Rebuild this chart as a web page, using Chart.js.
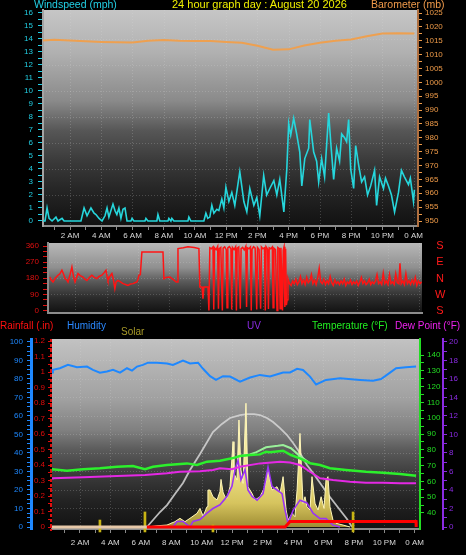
<!DOCTYPE html>
<html><head><meta charset="utf-8">
<script src="https://cdn.jsdelivr.net/npm/chart.js@4.4.1/dist/chart.umd.min.js"></script>
<style>
html,body{margin:0;padding:0;background:#000;width:466px;height:555px;overflow:hidden;font-family:"Liberation Sans",Arial,sans-serif;}
canvas{position:absolute;left:0;}
.t{position:absolute;white-space:nowrap;font-size:10px;line-height:12px;}
</style></head><body>
<canvas id="c1" width="466" height="242" style="top:0px"></canvas>
<canvas id="c2" width="466" height="88" style="top:234px"></canvas>
<canvas id="c3" width="466" height="237" style="top:318px"></canvas>
<div class="t" style="left:34px;top:-2px;color:#22d0e6;font-size:10.5px">Windspeed (mph)</div>
<div class="t" style="left:172px;top:-2px;color:#f0f000;font-size:11px">24 hour graph day : August 20 2026</div>
<div class="t" style="left:371px;top:-2px;color:#f09a4a;font-size:10.5px">Barometer (mb)</div>
<div class="t" style="left:435px;top:237px;color:#ff1a1a;font-size:11px;line-height:16.3px;width:10px;text-align:center">S<br>E<br>N<br>W<br>S</div>
<div class="t" style="left:0px;top:320px;color:#ff1010">Rainfall (.in)</div>
<div class="t" style="left:67px;top:320px;color:#2a88ff">Humidity</div>
<div class="t" style="left:121px;top:326px;color:#a89a28">Solar</div>
<div class="t" style="left:247px;top:320px;color:#8a2be2">UV</div>
<div class="t" style="left:312px;top:320px;color:#22ee22">Temperature (°F)</div>
<div class="t" style="left:395px;top:320px;color:#ee22ee">Dew Point (°F)</div>
<script>
// ---------- DATA ----------
const hourTicks = [1,2,3,4,5,6,7,8,9,10,11,12,13,14,15,16,17,18,19,20,21,22,23,24];
const xLabelHours = [2,4,6,8,10,12,14,16,18,20,22,24];
const xLabels = ['2 AM','4 AM','6 AM','8 AM','10 AM','12 PM','2 PM','4 PM','6 PM','8 PM','10 PM','0 AM'];

const windTickLabels = [0,1,2,3,4,5,6,7,8,9,10,11,12,13,14,15,16];
const baroTickLabels = [950,955,960,965,970,975,980,985,990,995,1000,1005,1010,1015,1020,1025];
const dirTickLabels = [0,90,180,270,360];
const humTickLabels = [0,10,20,30,40,50,60,70,80,90,100];
const rainTickLabels = [0,0.1,0.2,0.3,0.4,0.5,0.6,0.7,0.8,0.9,1,1.1,1.2];
const tempTickLabels = [40,50,60,70,80,90,100,110,120,130,140];
const uvTickLabels = [0,2,4,6,8,10,12,14,16,18,20];

// [hour, mph]
const windSpeed = [[0.21,0],[0.4,0],[0.53,1.0],[0.66,0.2],[0.85,0],[1.1,0.3],[1.23,0],[1.49,0.2],[1.62,0],[2.7,0],[2.9,1.0],[3.09,0.4],[3.34,1.0],[3.54,0.6],[3.66,0.5],[3.86,0.2],[4.05,0],[4.24,0.4],[4.37,1.0],[4.49,0.3],[4.75,1.3],[4.88,0.8],[5.0,0.5],[5.13,1.0],[5.26,0.2],[5.39,0.9],[5.52,1.0],[5.65,0],[5.9,0],[5.97,0.2],[6.09,0],[6.8,0],[6.86,0.2],[6.99,0],[7.56,0],[7.63,0.5],[7.75,0],[8.27,0],[8.33,0.2],[8.46,0],[8.52,0.2],[8.65,0],[9.55,0],[9.61,0.3],[9.74,0],[10.57,0],[10.7,0.6],[10.82,0.2],[10.95,0.3],[11.08,1.2],[11.21,0.6],[11.4,0.9],[11.53,0.8],[11.72,1.7],[11.85,1.0],[11.98,2.6],[12.17,1.5],
[12.36,2.2],[12.55,1.2],[12.87,3.8],[13.13,1.5],[13.32,0.7],[13.51,2.5],[13.77,1.2],[13.96,1.8],[14.15,0.4],[14.4,3.5],[14.59,2.0],[14.79,2.5],[15.05,3.1],[15.24,2.0],[15.43,3.2],[15.69,0.7],[15.88,4.0],[16.0,7.5],[16.13,6.6],[16.32,7.9],[16.51,6.7],[16.71,5.3],[16.84,2.7],[17.03,4.8],[17.28,5.6],[17.35,7.8],[17.6,5.3],[17.79,4.6],[17.92,3.0],[18.11,4.8],[18.3,3.4],[18.56,8.3],[18.69,6.1],[18.88,3.2],[19.07,5.6],[19.26,4.6],[19.39,6.7],[19.58,6.4],[19.71,6.1],[19.84,7.8],[19.97,4.0],[20.16,2.5],[20.29,5.8],[20.48,4.3],[20.67,3.0],[20.86,3.4],[21.05,2.0],[21.25,2.7],[21.5,3.9],[21.63,1.2],[21.82,3.4],[22.07,2.5],[22.2,3.3],[22.39,2.7],[22.58,2.0],[22.78,0.7],[23.03,2.2],[23.22,3.9],[23.41,3.4],[23.67,2.8],[23.79,3.3],[23.99,1.5],[24.05,2.4]];

// [hour, mb]
const barometer = [[0.25,1015.1],[1,1015.4],[2,1015.1],[3,1014.8],[4,1014.6],[5,1014.5],[6,1014.4],[7,1015.0],[8,1015.3],[9,1015.0],[10,1014.9],[11,1014.9],[12,1014.6],[13,1014.3],[14,1013.2],[15,1011.8],[16,1011.9],[17,1013.3],[18,1014.3],[19,1015.0],[20,1015.5],[21,1016.6],[22,1017.6],[23,1017.7],[24.05,1017.6]];

// [hour, degrees]
const windDir = [[0.36,187],[0.45,170],[0.56,159],[0.7,180],[0.88,197],[1.0,205],[1.13,225],[1.25,200],[1.33,178],[1.45,170],[1.52,159],[1.65,200],[1.77,243],[1.87,190],[1.97,159],[2.07,185],[2.16,206],[2.3,195],[2.48,187],[2.6,175],[2.73,168],[2.9,185],[3.05,197],[3.2,185],[3.37,178],[3.5,190],[3.69,197],[3.82,210],[3.95,225],[4.02,190],[4.08,168],[4.2,190],[4.33,206],[4.42,175],[4.52,122],[4.6,160],[4.72,168],[4.88,160],[5.04,150],[5.2,145],[5.36,140],[5.52,148],[5.68,150],[5.8,155],[5.93,159],[6.0,175],[6.06,197],[6.15,200],[6.25,327],[7.6,327],[7.66,178],[7.8,185],[8.05,187],[8.3,170],[8.45,159],[8.5,159],[8.56,346],[8.9,350],[9.2,356],[9.6,352],[9.9,346],[9.96,131],[10.1,131],[10.16,66],[10.22,131],[10.48,131],
[10.54,0],[10.6,350],[10.7,345],[10.8,355],[10.85,5],[10.9,350],[11.0,340],[11.1,358],[11.15,10],[11.2,345],[11.3,352],[11.4,0],[11.45,348],[11.55,355],[11.65,340],[11.7,15],[11.75,350],[11.85,357],[11.95,345],[12.0,5],[12.05,352],[12.15,340],[12.25,356],[12.3,0],[12.35,348],[12.45,355],[12.55,10],[12.6,345],[12.7,352],[12.8,338],[12.9,358],[12.95,20],[13.0,350],[13.1,345],[13.2,355],[13.25,0],[13.3,342],[13.4,356],[13.5,348],[13.6,5],[13.65,352],[13.75,340],[13.85,10],[13.9,355],[14.0,345],[14.1,350],[14.15,0],[14.2,356],[14.3,342],[14.35,8],[14.4,350],[14.5,345],[14.6,355],[14.65,15],[14.7,348],[14.8,340],[14.9,0],[14.95,352],[15.05,345],[15.1,10],[15.15,350],[15.25,0],[15.3,338],[15.35,356],[15.4,20],[15.45,345],[15.5,30],
[15.55,60],[15.6,178],[15.7,150],[15.8,140],[15.9,165],[16.0,150],[16.1,175],[16.2,145],[16.3,160],[16.4,190],[16.5,150],[16.6,170],[16.7,145],[16.8,185],[16.9,155],[17.0,165],[17.1,200],[17.2,150],[17.3,170],[17.4,145],[17.5,180],[17.6,236],[17.7,160],[17.8,150],[17.9,175],[18.0,145],[18.1,165],[18.2,150],[18.3,190],[18.4,155],[18.5,140],[18.6,170],[18.7,150],[18.8,160],[18.9,145],[19.0,165],[19.1,150],[19.2,175],[19.3,140],[19.4,160],[19.5,150],[19.6,170],[19.7,145],[19.8,160],[19.9,150],[20.0,165],[20.1,140],[20.2,160],[20.3,185],[20.4,150],[20.5,165],[20.6,145],[20.7,155],[20.8,175],[20.9,145],[21.0,160],[21.1,150],[21.2,165],[21.3,200],[21.4,150],[21.5,160],[21.6,145],[21.7,208],[21.8,150],[21.9,165],[22.0,145],[22.1,200],[22.2,150],[22.3,160],[22.4,145],[22.5,205],[22.6,155],[22.7,150],[22.77,264],[22.85,150],[22.95,165],[23.05,145],[23.15,205],[23.25,150],[23.35,165],[23.45,145],[23.55,170],[23.65,150],[23.75,185],[23.85,140],[23.95,165],[24.05,150],[24.15,160]];

// [hour, %]
const humidity = [[0.16,83.5],[0.22,84.9],[0.68,85.8],[1.21,87.6],[1.8,86.3],[2.46,86.7],[2.85,84.9],[3.31,83.4],[3.77,84.0],[4.17,84.9],[4.63,83.4],[5.09,85.8],[5.42,84.5],[5.75,86.7],[6.14,87.6],[6.47,88.8],[7.06,88.8],[7.72,88.4],[8.11,87.6],[8.77,89.9],[9.23,88.4],[9.76,88.8],[10.09,85.5],[10.55,81.5],[10.94,79.5],[11.4,81.5],[11.86,81.3],[12.52,78.5],[13.18,80.8],[13.83,82.2],[14.49,81.3],[15.35,83.5],[15.81,83.5],[16.27,85.5],[16.66,84.9],[17.12,81.3],[17.52,77.0],[18.17,79.5],[19.09,80.4],[20.41,79.5],[21.26,79.0],[21.79,80.0],[22.38,83.4],[22.78,85.8],[23.43,86.3],[24.09,86.7]];

// [hour, °F]
const temperature = [[0.16,67.5],[0.22,67.7],[1.14,66.8],[2.2,67.7],[3.31,68.3],[4.43,69.3],[5.48,69.7],[6.27,67.7],[6.8,69.3],[7.72,70.4],[9.03,71.4],[9.69,70.4],[10.35,72.5],[11.2,73.1],[11.99,74.6],[12.52,76.1],[13.18,76.7],[13.83,77.1],[14.23,78.8],[14.49,78.5],[15.35,79.4],[15.87,76.7],[16.46,74.6],[17.12,71.5],[17.78,70.4],[18.43,68.3],[19.49,67.2],[20.8,66.1],[21.92,65.5],[23.04,64.7],[24.09,63.6]];
const heatIndex = [[12.52,76.1],[13.18,77.0],[13.6,78.5],[14.23,81.6],[15.0,82.5],[15.35,83.0],[15.87,81.0],[16.46,76.0],[17.12,71.5]];
const dewPoint = [[0.16,61.8],[0.22,62.0],[2.2,62.6],[4.43,63.4],[6.27,64.0],[7.72,65.1],[8.57,66.1],[9.89,66.5],[10.74,67.2],[11.2,68.3],[11.99,67.7],[12.52,69.3],[13.83,71.4],[15.15,72.5],[15.81,72.0],[16.46,70.4],[17.12,66.1],[17.78,62.0],[18.63,60.9],[19.75,59.8],[20.8,59.2],[21.92,59.2],[23.04,58.8],[24.09,58.8]];

// [hour, W/m2]
const solar = [[6.4,0],[7.06,10],[7.72,16],[8.24,43],[8.57,70],[8.9,43],[9.23,70],[9.69,110],[9.89,150],[10.09,86],[10.35,164],[10.41,298],[10.55,298],[10.74,244],[11.01,218],[11.2,285],[11.27,384],[11.4,282],[11.53,244],[11.66,231],[11.86,325],[12.06,688],[12.12,433],[12.32,379],[12.45,863],[12.58,460],[12.72,352],[12.91,998],[13.04,325],[13.31,271],[13.5,218],[13.83,244],[14.16,325],[14.36,460],[14.62,298],[14.95,325],[15.15,271],[15.35,406],[15.55,137],[15.68,56],[15.94,110],[16.13,83],[16.27,298],[16.46,755],[16.66,191],[16.79,244],[16.92,164],[17.12,137],[17.25,406],[17.45,191],[17.65,137],[17.85,244],[18.04,150],[18.17,379],[18.3,406],[18.43,164],[18.63,56],[18.83,30],[19.29,16],[19.75,0]];
const solarMax = [[6.4,0],[7.26,121],[7.72,177],[8.24,266],[8.77,355],[9.23,460],[9.89,589],[10.74,766],[11.33,831],[11.86,879],[12.52,903],[12.98,911],[13.44,911],[13.83,903],[14.29,879],[14.69,847],[15.15,798],[15.61,742],[16.01,677],[16.46,597],[16.92,500],[17.32,435],[17.78,355],[18.43,242],[19.09,137],[19.55,65],[19.88,0]];
// [hour, UV index]
const uvIndex = [[8.11,0],[8.38,0.6],[8.77,0.6],[9.23,0],[9.43,0.6],[9.89,0.8],[10.35,1.5],[10.74,2.0],[11.2,2.4],[11.66,3.3],[11.99,4.4],[12.19,6.2],[12.39,7.2],[12.58,5.1],[12.85,6.2],[13.04,4.0],[13.31,3.3],[13.64,2.9],[14.03,3.6],[14.36,6.5],[14.62,4.4],[14.95,4.0],[15.28,3.6],[15.48,1.8],[15.68,0.4],[16.01,1.8],[16.46,2.9],[16.92,2.6],[17.32,1.5],[17.78,0.9],[18.17,0.9],[18.63,0.2],[19.09,0]];
// [hour, inches]
const rainfall = [[0.16,0],[6.4,0],[15.48,0],[15.81,0.035],[24.09,0.035],[24.1,0]];
// [hour, marker height]
const dayMarkers = [[3.31,0.045],[6.27,0.097],[10.74,0.013],[19.95,0.097]];

// ---------- HELPERS ----------
const FONT = '"Liberation Sans", Arial, sans-serif';
Chart.defaults.font.family = FONT;
const pts = a => a.map(p => ({x:p[0], y:p[1]}));
function withMinor(majors, parts){
  const out=[];
  for(let i=0;i<majors.length;i++){
    out.push({value:majors[i]});
    if(i<majors.length-1){ const a=majors[i], b=majors[i+1]; for(let k=1;k<parts;k++) out.push({value:a+(b-a)*k/parts}); }
  }
  return out;
}
function yAxis(o){
  return {
    type:'linear', position:o.pos, min:o.min, max:o.max, weight:o.weight||0, display: o.display===false?false:true,
    afterBuildTicks: s => { s.ticks = withMinor(o.labels, o.parts); },
    afterFit: s => { s.width = o.width; },
    ticks:{ color:o.color, font:{size:8}, padding:o.pad, autoSkip:false,
      callback: v => o.labels.includes(v) ? (o.fmt ? o.fmt(v) : String(v)) : '' },
    grid:{ drawOnChartArea:false, tickLength:o.tick||4, tickColor:o.color },
    border:{ display:o.border!==false, color:o.borderColor||o.color, width:o.borderWidth||2 }
  };
}
function xAxis(min, max, height, showLabels, pad){
  return {
    type:'linear', position:'bottom', min, max, offset:false,
    afterBuildTicks: s => { s.ticks = hourTicks.map(v => ({value:v})); },
    afterFit: s => { s.height = height; },
    ticks:{ display:showLabels, color:'#d8d8d8', font:{size:8}, padding:pad, autoSkip:false, maxRotation:0,
      callback: v => { const i = xLabelHours.indexOf(v); return i>=0 ? xLabels[i] : ''; } },
    grid:{ offset:false, drawOnChartArea:false, drawTicks:showLabels, tickLength:4, tickColor:'#8a8a8a' },
    border:{ color:'#8c8c8c', width:2 }
  };
}
const bgPlugin = {
  id:'bg',
  beforeDraw(chart, args, o){
    const ctx=chart.ctx, a=chart.chartArea;
    const g=ctx.createLinearGradient(0,a.top,0,a.bottom);
    o.stops.forEach(s=>g.addColorStop(s[0],s[1]));
    ctx.save();
    ctx.fillStyle=g; ctx.fillRect(a.left,a.top,a.right-a.left,a.bottom-a.top);
    ctx.lineWidth=1; ctx.setLineDash([1,2]); ctx.strokeStyle=o.grid;
    const xs=chart.scales.x;
    xLabelHours.forEach(h=>{ const p=Math.round(xs.getPixelForValue(h))+0.5; if(p>a.right-1) return; ctx.beginPath(); ctx.moveTo(p,a.top); ctx.lineTo(p,a.bottom); ctx.stroke(); });
    const ys=chart.scales[o.hAxis];
    o.hlines.forEach(v=>{ const p=Math.round(ys.getPixelForValue(v))+0.5; ctx.beginPath(); ctx.moveTo(a.left,p); ctx.lineTo(a.right,p); ctx.stroke(); });
    ctx.restore();
  },
  afterDraw(chart, args, o){
    if(!o.dashedAxis) return;
    const ctx=chart.ctx, a=chart.chartArea, s=chart.scales[o.dashedAxis];
    ctx.save(); ctx.strokeStyle=o.dashedColor; ctx.lineWidth=2; ctx.setLineDash([3,2]);
    ctx.beginPath(); ctx.moveTo(s.right-1,a.top); ctx.lineTo(s.right-1,a.bottom+2); ctx.stroke(); ctx.restore();
  }
};
const common = { responsive:false, animation:false, events:[], devicePixelRatio:1 };
const line = (data, color, width, extra) => Object.assign({ type:'line', data:pts(data), borderColor:color, borderWidth:width, pointRadius:0, tension:0, fill:false }, extra||{});

// ---------- TOP CHART: wind speed + barometer ----------
new Chart(document.getElementById('c1'), {
  type:'line',
  data:{ datasets:[
    line(windSpeed, '#26d6dc', 1.6, {yAxisID:'yWind', order:0}),
    line(barometer, '#eea050', 2, {yAxisID:'yBaro', order:1})
  ]},
  options:Object.assign({}, common, {
    layout:{ padding:{ top:10, left:0, right:0, bottom:0 } },
    plugins:{ legend:{display:false}, tooltip:{enabled:false},
      bg:{ stops:[[0,'#c6c6c6'],[0.2,'#b0b0b0'],[0.42,'#8a8a8a'],[0.5,'#6c6c6c'],[0.56,'#565656'],[0.7,'#3a3a3a'],[0.83,'#262626'],[1,'#111111']], grid:'rgba(225,225,225,0.22)', hAxis:'yWind', hlines:[2,4,6,8,10,12,14] } },
    scales:{
      x: xAxis(0.27, 24.28, 16, true, 1),
      yWind: yAxis({pos:'left', min:-0.385, max:16.23, labels:windTickLabels, parts:2, width:43, color:'#22cfe4', pad:5, tick:5, borderColor:'#a4a4a4'}),
      yBaro: yAxis({pos:'right', min:948.2, max:1026.1, labels:baroTickLabels, parts:2, width:48, color:'#ee9a48', pad:3, tick:4, borderColor:'#b07040'})
    }
  }),
  plugins:[bgPlugin]
});

// ---------- MIDDLE CHART: wind direction ----------
new Chart(document.getElementById('c2'), {
  type:'line',
  data:{ datasets:[ line(windDir, '#ff1414', 1.5, {yAxisID:'yDir'}) ]},
  options:Object.assign({}, common, {
    layout:{ padding:{ top:9, left:0, right:44, bottom:8 } },
    plugins:{ legend:{display:false}, tooltip:{enabled:false},
      bg:{ stops:[[0,'#b8b8b8'],[0.35,'#909090'],[0.55,'#5a5a5a'],[0.78,'#2c2c2c'],[1,'#111111']], grid:'rgba(225,225,225,0.2)', hAxis:'yDir', hlines:[90,180,270] } },
    scales:{
      x: xAxis(0.24, 24.18, 1, false, 0),
      yDir: yAxis({pos:'left', min:-14, max:377, labels:dirTickLabels, parts:3, width:48, color:'#e01010', pad:4, tick:5, borderColor:'#8a8a8a'})
    }
  }),
  plugins:[bgPlugin]
});

// ---------- BOTTOM CHART ----------
new Chart(document.getElementById('c3'), {
  type:'line',
  data:{ datasets:[
    line(rainfall, '#ff0000', 3, {yAxisID:'yRain', order:0,
      segment:{ borderColor: c => c.p0.parsed.x < 6.39 ? '#e6c8a8' : '#ff0000' }}),
    { type:'bar', data:pts(dayMarkers).map(p=>({x:p.x, y:[-0.032, p.y]})), yAxisID:'yRain', backgroundColor:'#c8b414', barThickness:2, order:1, clip:false },
    line(temperature, '#2cf02c', 2.5, {yAxisID:'yTemp', order:2}),
    line(heatIndex, '#9af09a', 2, {yAxisID:'yTemp', order:3}),
    line(dewPoint, '#e428e4', 2, {yAxisID:'yTemp', order:4}),
    line(uvIndex, '#9a34f4', 1.6, {yAxisID:'yUV', order:5}),
    line(humidity, '#1e88ff', 2, {yAxisID:'yHum', order:6}),
    line(solar, '#fff6b8', 1, {yAxisID:'ySolar', order:7, fill:{value:0},
      backgroundColor: c => { const a=c.chart.chartArea; if(!a) return '#e0d070'; const g=c.chart.ctx.createLinearGradient(0,a.top+60,0,a.bottom); g.addColorStop(0,'#fffac4'); g.addColorStop(0.5,'#f2e68e'); g.addColorStop(0.8,'#d6c45e'); g.addColorStop(1,'#9a8830'); return g; }}),
    line(solarMax, 'rgba(215,215,215,0.85)', 1.8, {yAxisID:'ySolar', order:8})
  ]},
  options:Object.assign({}, common, {
    layout:{ padding:{ top:21, left:0, right:0, bottom:0 } },
    plugins:{ legend:{display:false}, tooltip:{enabled:false},
      bg:{ stops:[[0,'#c2c2c2'],[0.32,'#a0a0a0'],[0.48,'#808080'],[0.58,'#5c5c5c'],[0.72,'#3a3a3a'],[0.85,'#232323'],[1,'#121212']], grid:'rgba(225,225,225,0.22)', hAxis:'yHum', hlines:[10,20,30,40,50,60,70,80,90],
        dashedAxis:'yRain', dashedColor:'#e01010' } },
    scales:{
      x: xAxis(0.16, 24.35, 26, true, 5),
      yHum: yAxis({pos:'left', weight:1, min:-1.08, max:101.6, labels:humTickLabels, parts:4, width:31, color:'#1e88ff', pad:4, tick:4, borderWidth:3}),
      yRain: yAxis({pos:'left', weight:0, min:-0.0129, max:1.213, labels:rainTickLabels, parts:2, width:21, color:'#e00c0c', pad:3, tick:4, border:false, fmt: v => String(Math.round(v*10)/10)}),
      yTemp: yAxis({pos:'right', weight:0, min:29.87, max:150.13, labels:tempTickLabels, parts:2, width:23, color:'#22dd22', pad:3, tick:4}),
      yUV: yAxis({pos:'right', weight:1, min:-0.216, max:20.32, labels:uvTickLabels, parts:2, width:23, color:'#8a2be2', pad:2, tick:4}),
      ySolar: { type:'linear', display:false, min:-16, max:1516 }
    }
  }),
  plugins:[bgPlugin]
});
</script>
</body></html>
